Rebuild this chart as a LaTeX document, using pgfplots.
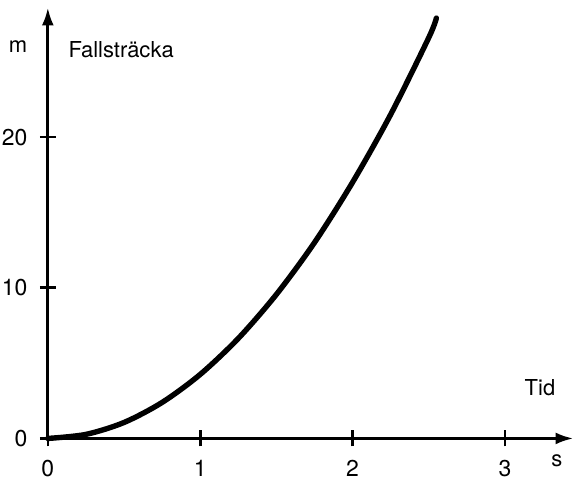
\documentclass[border=0pt]{standalone}
\usepackage{fontspec}
\setmainfont{TeX Gyre Heros}
\usepackage{pgfplots}
\pgfplotsset{compat=1.18}
\usetikzlibrary{arrows.meta}
\begin{document}
\fontsize{11}{13}\selectfont
\begin{tikzpicture}
\begin{axis}[
  x=76.35pt, y=7.55pt,
  xmin=0, xmax=3.45, ymin=0, ymax=28.6,
  axis lines=left,
  axis line style={line width=1.5pt, -{Latex[length=9pt,width=6pt]}},
  xtick={0,1,2,3}, ytick={0,10,20},
  tick align=center,
  major tick length=8pt,
  tick style={line width=1.3pt, black},
  xticklabel style={yshift=-3pt},
  yticklabel style={inner sep=0pt, xshift=-6pt},
  /pgf/number format/assume math mode=true,
  ticklabel style={font=\fontsize{11.5}{13}\selectfont},
  clip=false,
]
\addplot[line width=2.7pt, smooth, black, line cap=round] coordinates {
  (0,0) (0.25,0.27) (0.5,1.06) (0.75,2.39) (1.0,4.25) (1.25,6.64)
  (1.5,9.56) (1.75,13.0) (2.0,17.0) (2.25,21.5) (2.5,26.6) (2.55,27.9)
};
\node at (axis cs:-0.196,26.0) {m};
\node[anchor=west] at (axis cs:0.085,25.8) {Fallsträcka};
\node at (axis cs:3.23,3.4) {Tid};
\node at (axis cs:3.34,-1.5) {s};
\path (axis cs:-0.314,-2.19) rectangle (axis cs:3.45,29.1);
\end{axis}
\end{tikzpicture}
\end{document}
